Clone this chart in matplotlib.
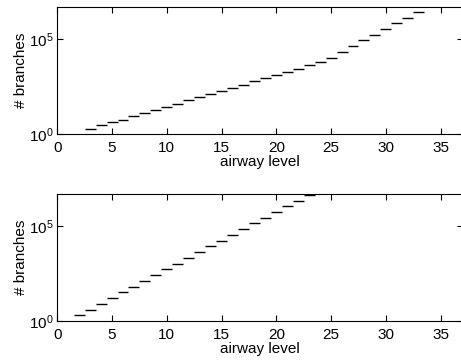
import numpy as np
import matplotlib
matplotlib.use("Agg")
import matplotlib.pyplot as plt

plt.rcParams.update({
    "font.family": ["Liberation Sans", "DejaVu Sans"],
    "font.size": 11,
    "xtick.direction": "in",
    "ytick.direction": "in",
    "xtick.top": True,
    "ytick.right": True,
})

# measured branch counts per airway level (asymmetric tree)
levels_meas = np.arange(3, 34)
branches_meas = [2, 3, 4.3, 5.9, 8.9, 13, 19, 28, 40, 65, 91, 126, 195, 275,
                 390, 600, 870, 1350, 1900, 2750, 4070, 6460, 10500, 20000,
                 44700, 91200, 170000, 331000, 692000, 1320000, 2690000]

# symmetric dichotomous tree: 2^(level-1)
levels_sym = np.arange(2, 24)
branches_sym = [2 ** (n - 1) for n in levels_sym]

XLIM = (0, 37)
YLIM = (1, 4.6e6)


def draw_panel(ax, levels, branches):
    ax.hlines(branches, levels - 0.5, levels + 0.5, colors="black",
              linewidth=1.0)
    ax.set_yscale("log")
    ax.set_xlim(*XLIM)
    ax.set_ylim(*YLIM)
    ax.set_xticks([0, 5, 10, 15, 20, 25, 30, 35])
    ax.set_yticks([1, 1e5])
    ax.yaxis.set_minor_locator(matplotlib.ticker.NullLocator())
    ax.tick_params(length=4, width=0.8)
    ax.tick_params(axis="x", pad=5)
    ax.tick_params(axis="y", pad=2.5)
    for s in ax.spines.values():
        s.set_linewidth(0.8)
    ax.set_xlabel("airway level", labelpad=0)
    ax.set_ylabel("# branches", labelpad=1)


fig = plt.figure(figsize=(4.61, 3.60), dpi=100)
ax1 = fig.add_axes([0.1243, 0.627, 0.879, 0.3527])
ax2 = fig.add_axes([0.1243, 0.1083, 0.879, 0.3528])

draw_panel(ax1, levels_meas, branches_meas)
draw_panel(ax2, levels_sym, branches_sym)

fig.savefig("out.png", dpi=100)
